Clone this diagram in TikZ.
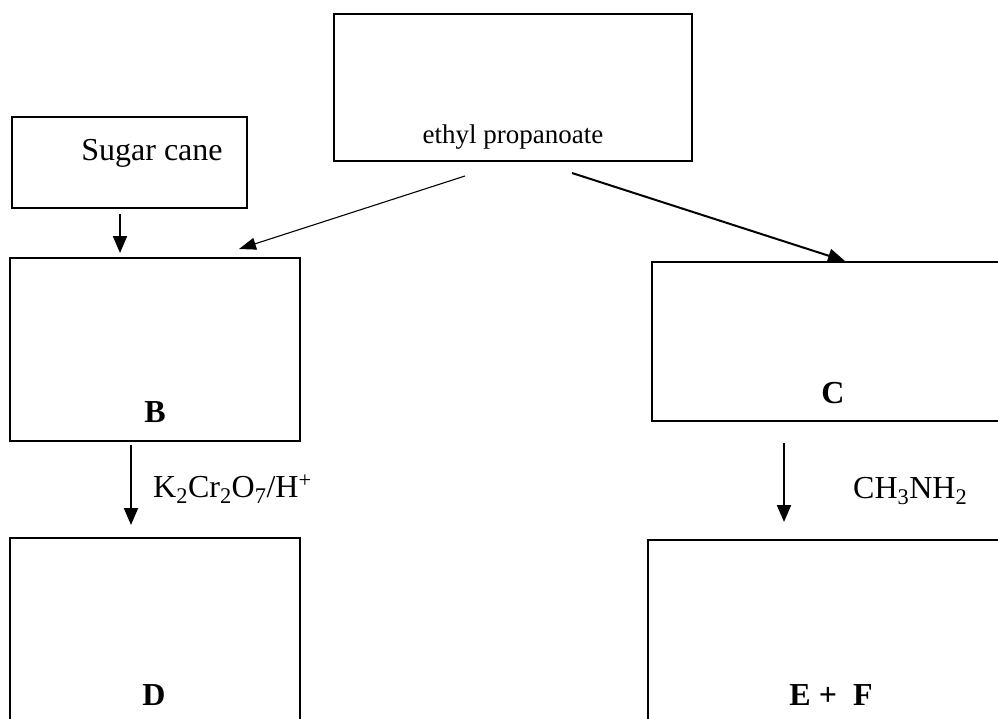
\documentclass[tikz,border=0pt]{standalone}
\usepackage{fontspec}
\setmainfont{Liberation Serif}
\usetikzlibrary{arrows.meta}
\begin{document}
\begin{tikzpicture}[x=1pt,y=-1pt,
  box/.style={draw,line width=2pt,inner sep=0pt},
  txt/.style={inner sep=0pt,anchor=base,font=\fontsize{32}{38}\selectfont},
  arr/.style={line width=2pt,-{Triangle[length=17pt,width=14pt]}},
  thinarr/.style={line width=1.1pt,-{Triangle[length=17pt,width=12pt]}}]
\useasboundingbox (0,0) rectangle (998,718);
\clip (0,0) rectangle (998,718);
% boxes
\node[box,minimum width=235pt,minimum height=91pt] (S) at (129.5,162.5) {};
\node[box,minimum width=358pt,minimum height=147pt] (E) at (513,87.5) {};
\node[box,minimum width=290pt,minimum height=183pt] (B) at (155,349.5) {};
\node[box,minimum width=290pt,minimum height=202pt] (D) at (155,639) {};
\node[box,minimum width=360pt,minimum height=159pt] (C) at (832,341.5) {};
\node[box,minimum width=364pt,minimum height=200pt] (EF) at (830,640) {};
% texts
\node[txt] (tS) at (152,160) {Sugar cane};
\node[txt,font=\fontsize{27}{32}\selectfont] (tE) at (513,143) {ethyl propanoate};
\node[txt] (tB) at (155,422) {\textbf{B}};
\node[txt] (tC) at (833,403) {\textbf{C}};
\node[txt] (tD) at (154,705) {\textbf{D}};
\node[txt] (tEF) at (831,705) {\textbf{E + \ F}};
\node[txt,anchor=base west] (k) at (153,497) {K\textsubscript{2}Cr\textsubscript{2}O\textsubscript{7}/H\textsuperscript{+}};
\node[txt,anchor=base west] (m) at (853,498) {CH\textsubscript{3}NH\textsubscript{2}};
% connectors
\draw[arr] ([xshift=-9.5pt,yshift=-5pt]S.south) -- ([xshift=-35pt,yshift=4pt]B.north);
\draw[arr] ([xshift=-24pt,yshift=-3pt]B.south) -- ([xshift=-24pt,yshift=12pt]D.north);
\draw[arr] ([xshift=-48pt,yshift=-21pt]C.south) -- ([xshift=-46pt,yshift=17pt]EF.north);
\draw[thinarr] ([xshift=-48pt,yshift=-14pt]E.south) -- ([xshift=84pt,yshift=8pt]B.north);
\draw[arr] ([xshift=59pt,yshift=-11pt]E.south) -- ([xshift=13pt]C.north);
\end{tikzpicture}
\end{document}
